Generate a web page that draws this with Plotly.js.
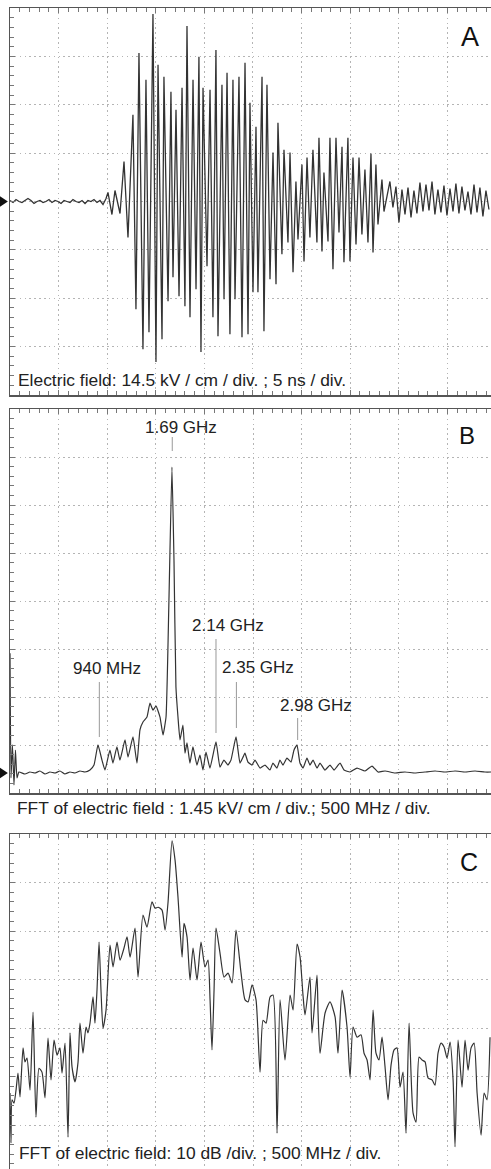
<!DOCTYPE html>
<html><head><meta charset="utf-8">
<script src="https://cdn.plot.ly/plotly-3.0.1.min.js"></script>
<style>html,body{margin:0;padding:0;background:#fff;overflow:hidden}#plot{width:491px;height:1169px}</style>
</head><body><div id="plot"></div>
<script>
// ---------- Panel A : electric field (kV/cm) vs time (ns) ----------
const timeA = [0.00,0.31,0.62,0.93,1.23,1.54,1.85,2.16,2.47,2.78,3.09,3.40,3.70,4.01,4.32,4.63,4.94,5.25,5.56,5.86,6.17,6.48,6.79,7.10,7.41,7.72,8.02,8.33,8.64,8.95,9.26,9.57,9.88,
10.08,10.49,10.80,11.32,11.73,12.14,12.65,12.96,13.27,13.68,13.99,14.30,14.71,15.02,15.23,15.64,15.84,16.26,16.56,16.77,17.08,17.39,17.70,18.00,18.21,18.52,18.83,19.14,19.44,19.65,19.86,20.27,20.58,20.88,21.19,21.40,21.81,22.02,22.33,22.63,22.94,23.15,23.56,23.87,24.18,24.49,24.69,25.00,25.31,25.51,25.93,26.13,26.44,26.75,27.06,27.37,27.57,27.98,28.19,28.60,28.81,29.12,29.42,29.63,30.04,30.25,30.56,30.86,31.17,31.58,31.79,32.10,32.30,32.72,32.92,33.23,33.54,33.85,34.16,34.36,34.77,34.98,35.29,35.60,35.91,36.21,36.52,36.83,37.14,37.35,37.65,37.86,38.27,38.48,39.09,39.40,
39.71,40.02,40.33,40.64,40.95,41.26,41.56,41.87,42.18,42.49,42.80,43.11,43.42,43.72,44.03,44.34,44.65,44.96,45.27,45.58,45.88,46.19,46.50,46.81,47.12,47.43,47.74,48.05,48.35,48.66,48.97,49.28];
const fieldA = [0.3,-0.3,0.6,0,-0.3,0.3,0.9,0.3,-0.6,0,0.3,-0.3,0,0.6,-0.3,0.3,0,-0.6,0.3,0,-0.3,0.6,0,-0.3,0.3,-0.6,0.3,0,0.6,-0.3,0.3,-0.9,0.9,
2.7,-3.9,3.3,-3.6,12.0,-10.8,26.0,-32.3,44.5,-44.3,36.5,-39.2,56.2,-48.1,41.0,-41.3,37.4,-29.9,32.9,-22.7,27.5,-28.4,34.1,-31.4,52.6,-34.7,36.5,-26.3,43.4,-45.1,34.1,-19.4,33.5,-34.7,45.4,-40.4,35.0,-29.3,38.6,-39.8,36.5,-29.3,37.4,-40.7,41.6,-39.8,29.6,-27.2,22.4,-27.2,37.4,-38.9,35.0,-23.3,14.7,-24.8,23.6,-15.8,15.5,-12.3,14.7,-21.2,6.0,-11.4,11.1,-18.0,13.2,-10.8,15.5,-12.3,19.1,-15.0,8.7,-12.0,19.1,-20.3,19.1,-9.3,16.4,-18.2,19.1,-17.9,13.2,-12.9,13.2,-9.9,9.6,-12.3,14.4,-15.3,11.1,-6.9,6.6,-3.0,6.0,-1.8,
4.5,-6.3,3.6,-3.9,4.2,-4.8,3.3,-3.6,5.7,-3.0,5.1,-2.7,6.0,-3.9,3.6,-3.3,4.8,-4.2,3.9,-3.0,5.4,-3.6,4.5,-2.7,3.0,-3.9,5.1,-3.3,4.2,-4.5,3.3,-2.4];

// ---------- Panel B : FFT magnitude (kV/cm) vs frequency (GHz) ----------
const freqB = [0.021,0.031,0.046,0.062,0.077,0.093,0.113,0.175,0.226,0.278,0.329,0.381,0.432,0.484,0.535,0.586,0.638,0.689,0.741,0.792,0.844,0.885,0.926,0.967,0.998,
1.049,1.080,1.121,1.152,1.204,1.235,1.286,1.327,1.358,1.389,1.430,1.461,1.492,1.523,1.564,1.595,1.626,1.656,1.687,1.708,1.728,1.749,1.770,1.800,1.821,1.842,1.872,1.903,1.944,1.975,
2.006,2.037,2.078,2.140,2.181,2.222,2.263,2.294,2.346,2.387,2.418,2.438,2.469,2.510,2.541,2.593,2.644,2.695,2.726,2.767,2.798,2.829,2.870,2.912,2.942,2.973,
3.004,3.035,3.076,3.107,3.138,3.179,3.210,3.261,3.313,3.354,3.416,3.457,3.519,3.591,3.673,3.745,3.807,3.879,3.981,4.084,4.187,4.290,4.393,4.496,4.599,4.702,4.805,4.907,4.979];
const magB = [3.62,-0.15,0.85,-0.36,0.69,-0.15,0.03,-0.03,0.03,0,0.06,-0.03,0.03,0,0.06,-0.03,0.03,0,0.06,0.03,0.09,0.24,0.85,0.39,0.09,
0.69,0.30,0.79,0.39,1.00,0.48,1.09,0.30,1.30,1.54,1.69,2.11,1.90,2.02,1.69,1.15,1.69,5.22,9.24,6.43,2.60,1.69,1.00,1.45,0.60,0.91,0.30,0.79,0.24,0.54,
0.09,0.63,0.15,0.94,0.18,0.39,0.24,0.39,1.09,0.30,0.48,0.60,0.33,0.24,0.39,0.15,0.24,0.09,0.30,0.15,0.39,0.24,0.45,0.33,0.69,0.85,
0.30,0.15,0.45,0.24,0.39,0.15,0.30,0.09,0.24,0.09,0.30,0.09,0.03,0.15,0.06,0.21,0.03,0.06,0,0.03,0,0.03,0.06,0.03,0.06,0.03,0.06,0.03,0.03];
const peakFreqs = [0.94, 1.69, 2.14, 2.35, 2.98];
const peakLabels = ["940 MHz", "1.69 GHz", "2.14 GHz", "2.35 GHz", "2.98 GHz"];

// ---------- Panel C : FFT magnitude (dB) vs frequency (GHz) ----------
const freqC = [0.021,0.031,0.042,0.062,0.083,0.103,0.124,0.155,0.175,0.196,0.227,0.258,0.288,0.319,0.350,0.381,0.412,0.443,0.474,0.505,
0.535,0.556,0.587,0.618,0.638,0.659,0.690,0.721,0.741,0.772,0.803,0.823,0.844,0.875,0.895,0.916,0.937,0.957,0.978,1.009,
1.050,1.081,1.122,1.153,1.194,1.225,1.256,1.307,1.338,1.389,1.430,1.482,1.513,1.544,1.585,1.616,1.647,1.688,1.719,1.749,
1.791,1.811,1.842,1.873,1.904,1.945,1.986,2.027,2.058,2.079,2.099,2.120,2.140,2.181,2.223,2.264,2.305,2.346,2.398,2.439,
2.470,2.511,2.552,2.593,2.624,2.655,2.696,2.727,2.768,2.799,2.850,2.902,2.933,2.974,3.005,3.035,3.056,3.107,3.128,3.179,
3.190,3.210,3.262,3.313,3.365,3.395,3.437,3.488,3.519,3.550,3.591,3.632,3.663,3.694,3.725,3.756,3.786,3.817,3.848,3.879,
3.910,3.941,3.972,4.002,4.033,4.064,4.095,4.126,4.167,4.198,4.229,4.260,4.291,4.321,4.363,4.393,4.424,4.455,4.486,4.517,
4.548,4.579,4.599,4.630,4.671,4.702,4.733,4.764,4.795,4.826,4.867,4.898,4.928,4.959];
const dbC = [-53.4,-63.7,-54.8,-55.5,-52.8,-49.3,-54.2,-44.1,-47.0,-46.2,-52.8,-36.7,-58.4,-48.3,-49.1,-54.4,-42.1,-50.7,-42.5,-45.6,
-44.1,-49.3,-43.1,-62.5,-41.0,-48.0,-51.1,-47.0,-39.0,-45.2,-39.8,-41.0,-39.0,-33.6,-39.0,-32.2,-22.3,-32.2,-40.0,-36.3,
-22.9,-27.4,-22.3,-26.0,-23.5,-21.2,-25.4,-19.4,-29.5,-16.7,-19.2,-14.0,-15.3,-15.1,-15.7,-19.8,-14.0,-1.4,-5.4,-13.0,
-25.4,-18.4,-21.2,-30.1,-23.5,-30.1,-22.3,-27.4,-26.0,-34.2,-44.5,-32.2,-19.4,-24.5,-29.5,-28.7,-30.7,-19.8,-28.7,-34.2,
-34.6,-31.1,-34.2,-49.1,-38.4,-39.0,-33.6,-33.2,-61.7,-34.2,-46.6,-33.2,-36.3,-22.7,-25.4,-33.2,-37.3,-29.5,-41.0,-29.1,
-36.9,-45.2,-36.9,-34.6,-37.7,-45.2,-32.2,-39.8,-50.1,-39.8,-41.9,-41.4,-45.2,-46.6,-50.7,-36.3,-45.2,-46.6,-41.9,-48.0,
-54.8,-47.6,-44.5,-44.1,-52.2,-49.1,-61.7,-39.0,-57.5,-59.4,-46.0,-46.6,-47.0,-50.3,-50.7,-51.8,-45.2,-43.1,-43.9,-46.2,
-42.9,-50.7,-64.5,-42.5,-52.2,-42.5,-48.7,-44.1,-43.1,-53.4,-62.1,-53.4,-54.8,-41.9];

const captions = ["Electric field: 14.5 kV / cm / div. ; 5 ns / div.",
                  "FFT of electric field : 1.45 kV/ cm / div.; 500 MHz / div.",
                  "FFT of electric field: 10 dB /div. ; 500 MHz / div."];
const panelLetters = ["A", "B", "C"];

// ---------- layout helpers (pixel -> paper) ----------
const W = 491, H = 1169;
const PX = v => v / W;
const PY = v => 1 - v / H;
const FONT = "Liberation Sans, Arial, Helvetica, sans-serif";
const GRID = {showgrid:true, gridcolor:"#b4b4b4", gridwidth:1, griddash:"1.5px,3.36px", zeroline:false,
  showticklabels:false, ticks:"inside", ticklen:5, tickcolor:"#777", tickwidth:1,
  showline:true, linecolor:"#555", linewidth:1.5};
const xGHz = {range:[0.021, 4.969], tick0:0.021, dtick:0.5,
  minor:{ticks:"inside", ticklen:4, tick0:0.021, dtick:0.1, tickcolor:"#777", showgrid:false}};

const traces = [
  {x:timeA, y:fieldA, xaxis:"x", yaxis:"y", mode:"lines", line:{color:"#333", width:1.3}, hoverinfo:"skip"},
  {x:freqB, y:magB, xaxis:"x2", yaxis:"y2", mode:"lines", line:{color:"#333", width:1.2, shape:"spline", smoothing:0.4}, hoverinfo:"skip"},
  {x:freqC, y:dbC, xaxis:"x3", yaxis:"y3", mode:"lines", line:{color:"#333", width:1.2, shape:"spline", smoothing:0.6}, hoverinfo:"skip"}
];

const layout = {
  width:W, height:H, margin:{l:0,r:0,t:0,b:0}, showlegend:false,
  paper_bgcolor:"#fff", plot_bgcolor:"#fff",
  xaxis: Object.assign({}, GRID, {domain:[PX(10),1], range:[0,49.49], tick0:0, dtick:5, mirror:"allticks",
    minor:{ticks:"inside", ticklen:4, tick0:0, dtick:1, tickcolor:"#777", showgrid:false}, anchor:"y"}),
  yaxis: Object.assign({}, GRID, {domain:[PY(395),PY(8)], range:[-58,58], tick0:-58, dtick:14.5,
    minor:{ticks:"inside", ticklen:4, tick0:-58, dtick:2.9, tickcolor:"#777", showgrid:false}, anchor:"x"}),
  xaxis2: Object.assign({}, GRID, xGHz, {domain:[PX(10),1], mirror:"allticks", anchor:"y2"}),
  yaxis2: Object.assign({}, GRID, {domain:[PY(793),PY(409)], range:[-0.604,10.996], tick0:-0.604, dtick:1.45,
    minor:{ticks:"inside", ticklen:4, tick0:-0.604, dtick:0.29, tickcolor:"#777", showgrid:false}, anchor:"x2"}),
  xaxis3: Object.assign({}, GRID, xGHz, {domain:[PX(10),1], side:"top", anchor:"y3"}),
  yaxis3: Object.assign({}, GRID, {domain:[0,PY(834)], range:[-69.07,0], tick0:0, dtick:10,
    minor:{ticks:"inside", ticklen:4, tick0:0, dtick:2, tickcolor:"#777", showgrid:false}, anchor:"x3"}),
  shapes:[], annotations:[]
};

// zero-level markers on the left edge
layout.shapes.push({type:"path", xref:"paper", yref:"y", path:"M 0,1.6 L 0.016,0 L 0,-1.6 Z", fillcolor:"#111", line:{width:0}});
layout.shapes.push({type:"path", xref:"paper", yref:"y2", path:"M 0,0.16 L 0.016,0 L 0,-0.16 Z", fillcolor:"#111", line:{width:0}});

// peak marker lines and labels in panel B
const lineTop = [682, 437, 639, 682, 718];
const lineBot = [737, 451, 733, 728, 740];
const labelPos = [[107,668],[181,428],[228,625],[258,667],[316,705]];
peakFreqs.forEach((f,i)=>{
  layout.shapes.push({type:"line", xref:"x2", yref:"paper", x0:f, x1:f, y0:PY(lineBot[i]), y1:PY(lineTop[i]),
    line:{color:"#999", width:1}});
  layout.annotations.push({text:peakLabels[i], xref:"paper", yref:"paper", x:PX(labelPos[i][0]), y:PY(labelPos[i][1]),
    xanchor:"center", yanchor:"middle", showarrow:false, font:{family:FONT, size:17, color:"#222"}});
});

// captions
const capPos = [[16,380],[15,808],[17,1153]];
captions.forEach((c,i)=>{
  layout.annotations.push({text:c, xref:"paper", yref:"paper", x:PX(capPos[i][0]), y:PY(capPos[i][1]),
    xanchor:"left", yanchor:"middle", showarrow:false, font:{family:FONT, size:17.4, color:"#222"}});
});
// panel letters
const letterPos = [[470,37,27],[467,435,24],[469,862,25]];
panelLetters.forEach((l,i)=>{
  layout.annotations.push({text:l, xref:"paper", yref:"paper", x:PX(letterPos[i][0]), y:PY(letterPos[i][1]),
    xanchor:"center", yanchor:"middle", showarrow:false, font:{family:FONT, size:letterPos[i][2], color:"#111"}});
});

Plotly.newPlot("plot", traces, layout, {staticPlot:true, displayModeBar:false});
</script></body></html>
